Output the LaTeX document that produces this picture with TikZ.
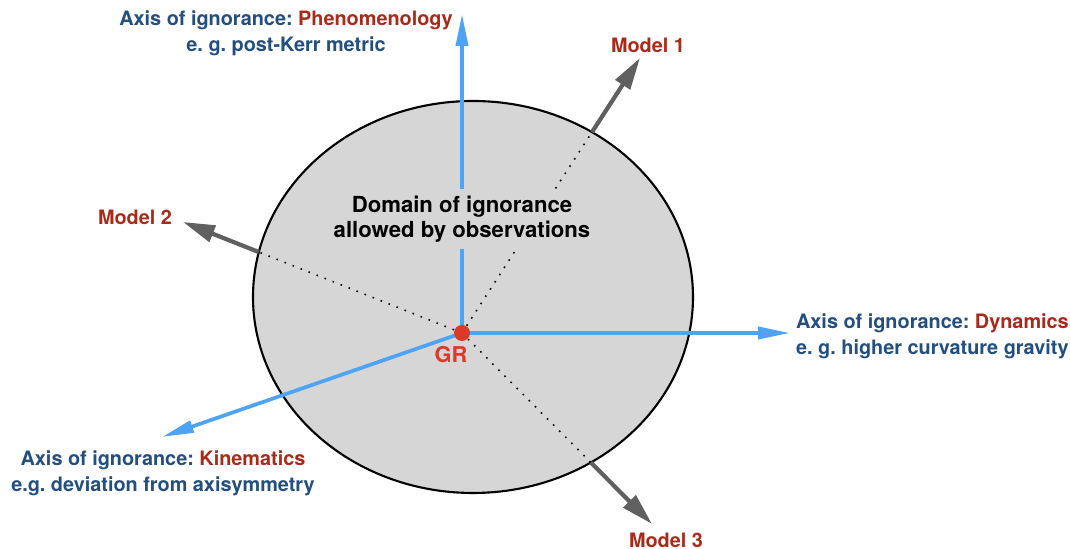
\documentclass[tikz,border=0pt]{standalone}
\usepackage{fontspec}
\setmainfont{TeX Gyre Heros}
\usetikzlibrary{arrows.meta,intersections,positioning}

\definecolor{axisblue}{RGB}{78,163,245}
\definecolor{labelblue}{RGB}{34,78,128}
\definecolor{labelred}{RGB}{170,42,26}
\definecolor{grred}{RGB}{222,56,40}
\definecolor{modelgray}{RGB}{96,96,96}
\definecolor{domaingray}{RGB}{214,214,214}

\tikzset{
    axis/.style = {draw=axisblue, line width=1.05pt, -{Triangle[length=3.2mm, width=1.2mm]}},
    model/.style = {draw=modelgray, line width=1.2pt, -{Triangle[length=3.2mm, width=1.7mm]}},
    trace/.style = {draw=black, dotted, line width=0.45pt},
    lbl/.style = {font=\fontsize{5.65}{7.4}\selectfont\bfseries, inner sep=1pt, align=center}
}

\frenchspacing

\begin{document}
\begin{tikzpicture}
    \useasboundingbox (0,0) rectangle (10.70,5.49);

    % domain of ignorance
    \path[name path=dom, draw=black, line width=0.6pt, fill=domaingray]
        (4.73,2.52) ellipse [x radius=2.20, y radius=1.96];

    \coordinate (gr) at (4.62,2.16);
    \coordinate (m1t) at (6.40,4.91);
    \coordinate (m2t) at (1.83,3.27);
    \coordinate (m3t) at (6.52,0.25);

    % where the model directions leave the domain
    \path[name path=l1] (gr) -- (m1t);
    \path[name path=l2] (gr) -- (m2t);
    \path[name path=l3] (gr) -- (m3t);
    \path[name intersections={of=dom and l1, by=m1b}];
    \path[name intersections={of=dom and l2, by=m2b}];
    \path[name intersections={of=dom and l3, by=m3b}];

    \draw[trace] (gr) -- (m1b);
    \draw[trace] (gr) -- (m2b);
    \draw[trace] (gr) -- (m3b);
    \draw[model] (m1b) -- (m1t);
    \draw[model] (m2b) -- (m2t);
    \draw[model] (m3b) -- (m3t);

    % axes of ignorance
    \coordinate (pht) at (4.62,5.35);
    \coordinate (dyt) at (7.90,2.16);
    \coordinate (kit) at (1.62,1.12);
    \draw[axis] (gr) -- (pht);
    \draw[axis] (gr) -- (dyt);
    \draw[axis] (gr) -- (kit);

    \node[lbl, fill=domaingray, inner sep=2pt, font=\fontsize{6.3}{7.2}\selectfont\bfseries] (domtext) at (4.62,3.30)
        {Domain of ignorance\\allowed by observations};

    \fill[grred] (gr) circle (0.08);
    \node[lbl, text=grred, font=\fontsize{6.2}{7}\selectfont\bfseries] (grlabel) at (4.51,1.94) {GR};

    \node[lbl, text=labelblue] (phlabel) at (2.86,5.16)
        {Axis of ignorance: \textcolor{labelred}{Phenomenology}\\e. g. post-Kerr metric};
    \node[lbl, text=labelblue, align=left, anchor=east] (dylabel) at (10.73,2.13)
        {Axis of ignorance: \textcolor{labelred}{Dynamics}\\e. g. higher curvature gravity};
    \node[lbl, text=labelblue] (kilabel) at (1.63,0.76)
        {Axis of ignorance: \textcolor{labelred}{Kinematics}\\e.g. deviation from axisymmetry};

    \node[lbl, text=labelred] (m1label) at (6.48,5.04) {Model 1};
    \node[lbl, text=labelred] (m2label) at (1.35,3.32) {Model 2};
    \node[lbl, text=labelred] (m3label) at (6.66,0.09) {Model 3};
\end{tikzpicture}
\end{document}
